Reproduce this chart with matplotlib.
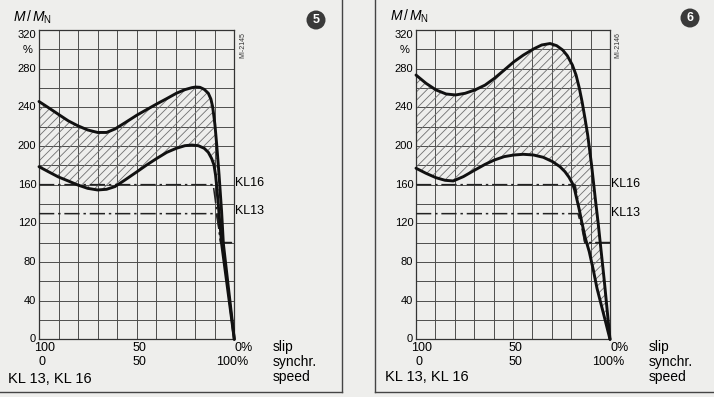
import matplotlib
matplotlib.use("Agg")
import matplotlib.pyplot as plt
from matplotlib.patches import Polygon
from matplotlib.lines import Line2D

plt.rcParams['font.family'] = ['Liberation Sans', 'DejaVu Sans']
plt.rcParams['mathtext.fontset'] = 'custom'
plt.rcParams['mathtext.rm'] = 'Liberation Sans'
plt.rcParams['mathtext.it'] = 'Liberation Sans:italic'
plt.rcParams['hatch.linewidth'] = 0.6

# ---------------- data (speed in % of synchronous speed, torque M/MN in %) -------------
L_upper_speed = [0, 4.8, 9.9, 15, 19.8, 24.9, 30, 34.6, 38.9, 44, 50.2, 55.1, 60.2, 65.4, 70.3,
                 74.7, 78.2, 80.2, 82.4, 84.6, 86.7, 88, 88.9, 89.6, 90.1, 91, 92.2, 93.5, 94.4, 97.8, 100]
L_upper_M     = [246, 239.7, 232.8, 226, 221, 216.6, 214, 214, 217.6, 224, 232, 237.6, 243.4, 249, 254.5,
                 258.3, 260.3, 261, 260.7, 258.6, 254.5, 248.6, 240.7, 230, 221.7, 201, 170, 132, 99, 39, 0]
L_lower_speed = [0, 4.8, 9.9, 15, 19.8, 24.9, 30, 34.6, 38.9, 44, 50.2, 55.1, 60.2, 65.4, 70.3,
                 74.7, 78.2, 81.6, 84.6, 86.7, 88.4, 89.6, 90.4, 91.1, 91.8, 92.7, 93.5, 100]
L_lower_M     = [178.6, 173.4, 168, 163.8, 159.7, 156.2, 154.5, 155.2, 158, 164.8, 173.4, 180.3, 187, 193.4, 197.6,
                 200.3, 201, 200.3, 197.6, 193.4, 187, 180.3, 170, 156, 139, 118, 99, 0]
L_kl16_speed  = [0, 89.2, 90.2, 91.5, 93, 100]
L_kl16_M      = [160, 160, 145, 125, 100, 100]
L_kl13_speed  = [0, 90.8, 91.8, 93, 100]
L_kl13_M      = [130, 130, 118, 100, 100]

R_upper_speed = [0, 5.2, 10.3, 15.5, 20.4, 25.3, 30.4, 35.6, 40.4, 45.5, 50.5, 55.3, 60.5, 64.8, 69.1,
                 72.5, 75.6, 78, 80.6, 82.5, 84.2, 85.6, 87.1, 88.5, 90.5, 92.4, 94, 97.1, 100]
R_upper_M     = [273.4, 264.8, 258, 253.8, 252.8, 254.5, 258, 263, 270, 278.6, 287.2, 294, 300.3, 304.5, 306,
                 303.8, 299.3, 293.4, 283.8, 273.4, 259.7, 245.9, 228.6, 211.4, 180.3, 145.9, 118.3, 59.7, 0]
R_lower_speed = [0, 5.2, 10.3, 15, 19.2, 24.4, 30.4, 35.6, 40.4, 45.5, 50.5, 55.3, 60.5, 65.6, 70.4,
                 74.2, 76.8, 78.9, 80.6, 81.8, 82.8, 84.2, 85.4, 87.3, 89.3, 91.4, 93.3, 96.6, 100]
R_lower_M     = [177, 171.7, 167.2, 164.5, 163.8, 168.3, 175.2, 181, 185.5, 189, 190.7, 191.4, 190.7, 188.3, 183.8,
                 178.6, 173.4, 167.6, 161.4, 154.5, 145.9, 133.8, 121.7, 104.5, 90.7, 71.7, 52.8, 26.9, 0]
R_kl16_speed  = [0, 82, 83, 84.5, 86, 87, 100]
R_kl16_M      = [160, 160, 150, 130, 113, 100, 100]
R_kl13_speed  = [0, 83.5, 85.5, 87, 100]
R_kl13_M      = [130, 130, 115, 100, 100]

y_tick_values = [0, 40, 80, 120, 160, 200, 240, 280, 320]
x_row1 = ["100", "50", "0%"]
x_row2 = ["0", "50", "100%"]
axis_words = ["slip", "synchr.", "speed"]
panel_numbers = ["5", "6"]
drawing_ids = ["MI-2145", "MI-2146"]
kl_labels = ["KL16", "KL13"]
footer = "KL 13, KL 16"

# ---------------- figure ----------------
W, H = 714, 397
bg = '#eeeeec'
fig = plt.figure(figsize=(W / 100, H / 100), dpi=100, facecolor=bg)

def fx(px):
    return px / W

def fy(py):
    return 1 - py / H

ax_top, ax_bot = 30.0, 339.3
axL = fig.add_axes([fx(39), fy(ax_bot), 195.3 / W, (ax_bot - ax_top) / H])
axR = fig.add_axes([fx(416), fy(ax_bot), 194 / W, (ax_bot - ax_top) / H])

panels = [
    (axL, L_upper_speed, L_upper_M, L_lower_speed, L_lower_M,
     L_kl16_speed, L_kl16_M, L_kl13_speed, L_kl13_M, (162, 133)),
    (axR, R_upper_speed, R_upper_M, R_lower_speed, R_lower_M,
     R_kl16_speed, R_kl16_M, R_kl13_speed, R_kl13_M, (161, 131)),
]

num_font = ['Liberation Sans Narrow', 'Liberation Sans']
dash_dot = (0, (10, 2.5, 1.6, 2.5))

for i, (ax, us, um, ls, lm, k16s, k16m, k13s, k13m, kly) in enumerate(panels):
    ax.set_facecolor(bg)
    ax.set_xlim(0, 100)
    ax.set_ylim(0, 320)
    ax.set_xticks(range(0, 101, 10))
    ax.set_yticks(range(0, 321, 20))
    ax.tick_params(length=0, labelbottom=False, labelleft=False)
    ax.grid(True, color='#4d4d4d', linewidth=0.7)
    ax.set_axisbelow(True)
    for s in ax.spines.values():
        s.set_color('#333333')
        s.set_linewidth(0.9)

    # hatched band between the curves
    poly_pts = list(zip(us, um)) + list(zip(ls[::-1], lm[::-1]))
    ax.add_patch(Polygon(poly_pts, closed=True, facecolor='none', edgecolor='#707070',
                         linewidth=0, hatch='////', zorder=2))

    ax.plot(us, um, color='#111111', lw=2.1, zorder=4, solid_joinstyle='round',
            solid_capstyle='round', clip_on=False)
    ax.plot(ls, lm, color='#111111', lw=2.1, zorder=4, solid_joinstyle='round',
            solid_capstyle='round', clip_on=False)
    ax.plot(k16s, k16m, color='#222222', lw=1.1, linestyle=dash_dot, zorder=3)
    ax.plot(k13s, k13m, color='#222222', lw=1.1, linestyle=dash_dot, zorder=3)

    ax.text(100.6, kly[0], kl_labels[0], fontsize=9, family=num_font, va='center', ha='left', clip_on=False)
    ax.text(100.6, kly[1], kl_labels[1], fontsize=9, family=num_font, va='center', ha='left', clip_on=False)

    # y tick labels
    for v in y_tick_values:
        dy = 0.5 if v == 0 else (-3.5 if v == 320 else 0)
        ax.annotate(str(v), xy=(0, v), xytext=(-2, dy), textcoords='offset points',
                    ha='right', va='center', fontsize=8, family=num_font, annotation_clip=False)
    ax.text(-6, 299, "%", ha='center', va='center', fontsize=8, family=num_font, clip_on=False)

    # x labels (two rows)
    row_y1, row_y2 = -9.0, -23.0
    ax.text(2.9, row_y1, x_row1[0], ha='center', va='center', fontsize=9, family=num_font, clip_on=False)
    ax.text(51.5, row_y1, x_row1[1], ha='center', va='center', fontsize=9, family=num_font, clip_on=False)
    ax.text(100.2, row_y1, x_row1[2], ha='left', va='center', fontsize=9, family=num_font, clip_on=False)
    ax.text(1.5, row_y2, x_row2[0], ha='center', va='center', fontsize=9, family=num_font, clip_on=False)
    ax.text(51.5, row_y2, x_row2[1], ha='center', va='center', fontsize=9, family=num_font, clip_on=False)
    ax.text(107.3, row_y2, x_row2[2], ha='right', va='center', fontsize=9, family=num_font, clip_on=False)

    for word, yv in zip(axis_words, [-7.5, -23.0, -39.5]):
        ax.text(119.7, yv, word, ha='left', va='center', fontsize=10, clip_on=False)

# axis titles
fig.text(fx(13), fy(17), r"$M\,/\,M_{\mathrm{N}}$", fontsize=10, ha='left', va='center')
fig.text(fx(390), fy(16), r"$M\,/\,M_{\mathrm{N}}$", fontsize=10, ha='left', va='center')

# footer texts
fig.text(fx(8), fy(379), footer, fontsize=10.5, ha='left', va='center')
fig.text(fx(385), fy(377), footer, fontsize=10.5, ha='left', va='center')

# drawing ids (rotated)
fig.text(fx(243), fy(45), drawing_ids[0], rotation=90, fontsize=5, ha='center', va='center',
         family=num_font, color='#333333')
fig.text(fx(618), fy(45), drawing_ids[1], rotation=90, fontsize=5, ha='center', va='center',
         family=num_font, color='#333333')

# circled panel numbers
for num, (cx, cy) in zip(panel_numbers, [(316, 20), (690, 18)]):
    fig.text(fx(cx), fy(cy), num, fontsize=9, fontweight='bold', color='white',
             ha='center', va='center',
             bbox=dict(boxstyle='circle,pad=0.28', fc='#3a3a3a', ec='none'))

# page frame lines
frame_kw = dict(color='#444444', lw=1.0, transform=fig.transFigure)
fig.add_artist(Line2D([fx(342), fx(342)], [fy(0), fy(392)], **frame_kw))
fig.add_artist(Line2D([fx(0), fx(342)], [fy(392), fy(392)], **frame_kw))
fig.add_artist(Line2D([fx(375), fx(375)], [fy(0), fy(392)], **frame_kw))
fig.add_artist(Line2D([fx(375), fx(714)], [fy(392), fy(392)], **frame_kw))

fig.savefig("out.png", dpi=100, facecolor=bg)
